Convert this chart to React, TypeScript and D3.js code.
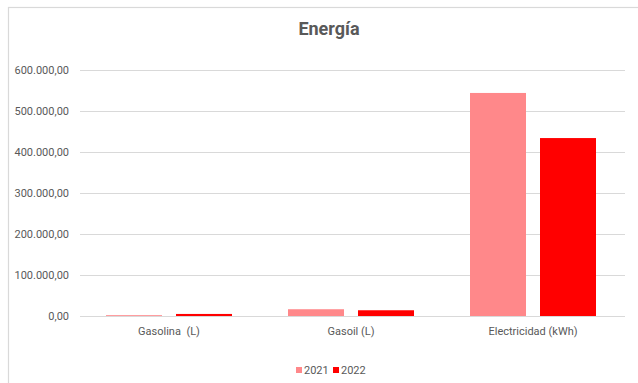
import React from "react";
import * as d3 from "d3";

const categories = ["Gasolina  (L)", "Gasoil (L)", "Electricidad (kWh)"];
const years = ["2021", "2022"];
const values2021 = [2000, 16500, 544000];
const values2022 = [5000, 14000, 434000];
const yTicks = [0, 100000, 200000, 300000, 400000, 500000, 600000];
const colors = ["#ff888a", "#ff0000"];

const W = 638;
const H = 383;
const margin = { top: 70, left: 78, right: 14, bottom: 67 };

const locale = d3.formatLocale({ decimal: ",", thousands: ".", grouping: [3], currency: ["", "€"] });
const fmt = locale.format(",.2f");

function App() {
  const y = d3.scaleLinear().domain([0, 600000]).range([H - margin.bottom, margin.top]);
  const x0 = d3.scaleBand().domain(categories).range([margin.left, W - margin.right]).padding(0);
  const x1 = d3
    .scaleBand()
    .domain(years)
    .range([0, x0.bandwidth()])
    .paddingInner(0.2)
    .paddingOuter(0.4);
  const series = [values2021, values2022];
  const font = "Roboto, 'Liberation Sans', sans-serif";

  return (
    <svg
      width={W}
      height={H}
      style={{ position: "absolute", left: 0, top: 0, background: "#fff" }}
      fontFamily={font}
    >
      <rect x={8.5} y={7.5} width={W + 10} height={H + 10} fill="#fff" stroke="#d9d9d9" strokeWidth={1.2} />
      <text x={329} y={35} textAnchor="middle" fontSize={18} fontWeight="bold" fill="#595959">
        Energía
      </text>
      {yTicks.map((t) => (
        <g key={t}>
          <line x1={margin.left + 2} x2={W - margin.right + 1} y1={y(t) + 0.5} y2={y(t) + 0.5} stroke="#d9d9d9" strokeWidth={1} />
          <text x={69} y={y(t) + 4} textAnchor="end" fontSize={11} fill="#595959">
            {fmt(t)}
          </text>
        </g>
      ))}
      {categories.map((c, i) => (
        <g key={c}>
          {years.map((yr, j) => {
            const v = series[j][i];
            return (
              <rect
                key={yr}
                x={(x0(c) ?? 0) + (x1(yr) ?? 0)}
                y={y(v)}
                width={x1.bandwidth()}
                height={y(0) - y(v)}
                fill={colors[j]}
              />
            );
          })}
          <text
            x={(x0(c) ?? 0) + x0.bandwidth() / 2}
            y={335}
            textAnchor="middle"
            fontSize={11}
            fill="#595959"
            style={{ whiteSpace: "pre" }}
          >
            {c}
          </text>
        </g>
      ))}
      {years.map((yr, j) => (
        <g key={yr} transform={`translate(${296 + j * 37},${367})`}>
          <rect x={0} y={0} width={6} height={6} fill={colors[j]} />
          <text x={8} y={7} fontSize={11} fill="#595959">
            {yr}
          </text>
        </g>
      ))}
    </svg>
  );
}

export default App;
